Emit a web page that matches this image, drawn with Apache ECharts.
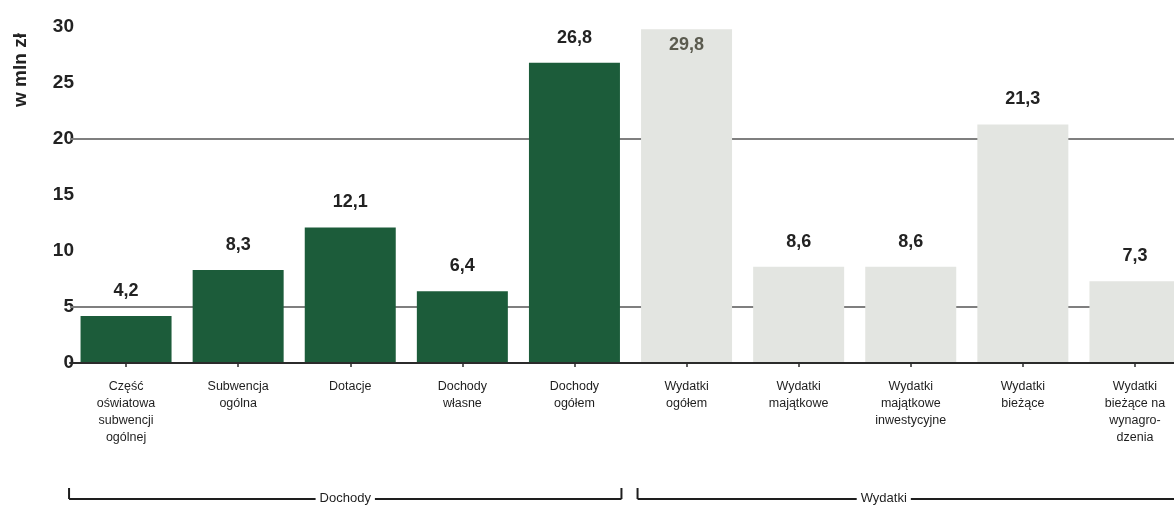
<!DOCTYPE html>
<html>
<head>
<meta charset="utf-8">
<script src="https://cdn.jsdelivr.net/npm/echarts@6/dist/echarts.min.js"></script>
<style>
html,body{margin:0;padding:0;background:#fff;}
#main{width:1174px;height:508px;}
</style>
</head>
<body>
<div id="main"></div>
<script>
const categories = [
  "Część\noświatowa\nsubwencji\nogólnej",
  "Subwencja\nogólna",
  "Dotacje",
  "Dochody\nwłasne",
  "Dochody\nogółem",
  "Wydatki\nogółem",
  "Wydatki\nmajątkowe",
  "Wydatki\nmajątkowe\ninwestycyjne",
  "Wydatki\nbieżące",
  "Wydatki\nbieżące na\nwynagro-\ndzenia"
];
const values = [4.2, 8.3, 12.1, 6.4, 26.8, 29.8, 8.6, 8.6, 21.3, 7.3];
const groups = ["Dochody", "Dochody", "Dochody", "Dochody", "Dochody",
                "Wydatki", "Wydatki", "Wydatki", "Wydatki", "Wydatki"];
const gridValues = [5, 20];
const yTicks = [0, 5, 10, 15, 20, 25, 30];
const unitLabel = "w mln zł";

const GREEN = '#1c5c3a';
const GRAY = '#e3e5e1';
const FONT = '"Liberation Sans", Arial, sans-serif';

const chart = echarts.init(document.getElementById('main'), null, {renderer: 'canvas'});

const seriesData = values.map((v, i) => {
  const isDoch = groups[i] === 'Dochody';
  const inside = v >= 29;
  return {
    value: v,
    itemStyle: {color: isDoch ? GREEN : GRAY},
    label: inside ? {position: 'insideTop', distance: 7, color: '#5a5a4e'} : {}
  };
});

chart.setOption({
  animation: false,
  backgroundColor: '#fff',
  grid: {left: 70, top: 27, width: 1121, height: 336, containLabel: false, outerBoundsMode: 'none'},
  xAxis: {
    type: 'category',
    data: categories,
    boundaryGap: true,
    z: 5,
    axisLine: {show: true, lineStyle: {color: '#2b2b2b', width: 2}},
    axisTick: {show: true, alignWithLabel: true, length: 4, lineStyle: {color: '#2b2b2b', width: 1.5}},
    axisLabel: {
      interval: 0, margin: 15, color: '#1e1e1e', fontFamily: FONT,
      fontSize: 12.5, lineHeight: 17, fontWeight: 'normal', hideOverlap: false
    }
  },
  yAxis: {
    type: 'value', min: yTicks[0], max: yTicks[yTicks.length - 1], interval: 5,
    axisLine: {show: false}, axisTick: {show: false},
    splitLine: {show: false},
    axisLabel: {color: '#222', fontFamily: FONT, fontSize: 19, fontWeight: 'bold', margin: -4}
  },
  series: [{
    type: 'line',
    data: [],
    z: 1,
    silent: true,
    markLine: {
      silent: true, symbol: 'none', z: 1,
      label: {show: false},
      lineStyle: {color: '#7f7f7f', width: 2, type: 'solid'},
      data: gridValues.map(v => ({yAxis: v}))
    }
  }, {
    type: 'bar',
    data: seriesData,
    barWidth: 91,
    z: 3,
    label: {
      show: true, position: 'top', distance: 16,
      color: '#222', fontFamily: FONT, fontSize: 18, fontWeight: 'bold',
      formatter: p => String(p.value).replace('.', ',')
    }
  }]
});

function bandEdge(idx, side) {
  const c = chart.convertToPixel({xAxisIndex: 0}, categories[idx]);
  return c + side * 56;
}
const groupNames = [...new Set(groups)];
const graphics = [];
const yLine = 499;
groupNames.forEach((g, gi) => {
  const first = groups.indexOf(g);
  const last = groups.lastIndexOf(g);
  let x0 = bandEdge(first, -1) + (gi === 0 ? -1 : 7);
  let x1 = bandEdge(last, 1) - 9;
  if (gi === groupNames.length - 1) x1 = 1180;
  const tx = gi === 0 ? (x0 + x1) / 2 : (x0 + 1130) / 2;
  const stroke = {stroke: '#1e1e1e', lineWidth: 2};
  graphics.push({type: 'line', shape: {x1: x0, y1: yLine, x2: x1, y2: yLine}, style: stroke});
  graphics.push({type: 'line', shape: {x1: x0, y1: yLine - 11, x2: x0, y2: yLine}, style: stroke});
  if (gi !== groupNames.length - 1)
    graphics.push({type: 'line', shape: {x1: x1, y1: yLine - 11, x2: x1, y2: yLine}, style: stroke});
  graphics.push({
    type: 'text', x: tx, y: yLine - 1, z: 10,
    style: {text: g, fill: '#1e1e1e', font: '13px ' + FONT, align: 'center', verticalAlign: 'middle',
            backgroundColor: '#fff', padding: [0, 4]}
  });
});
graphics.push({
  type: 'text', x: 21, y: 70, rotation: Math.PI / 2,
  style: {text: unitLabel, fill: '#222', font: 'bold 19px ' + FONT, align: 'center', verticalAlign: 'middle'}
});
chart.setOption({graphic: graphics});
</script>
</body>
</html>
